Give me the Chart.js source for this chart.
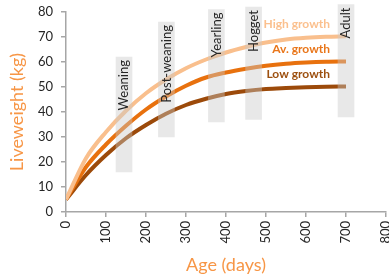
<!DOCTYPE html>
<html>
<head>
<meta charset="utf-8">
<script src="https://cdn.jsdelivr.net/npm/chart.js@4/dist/chart.umd.min.js"></script>
<style>
  html, body { margin: 0; padding: 0; background: #fff; }
  #wrap { position: relative; width: 389px; height: 276px; }
</style>
</head>
<body>
<div id="wrap"><canvas id="growthChart"></canvas></div>
<script>
// growth curves (liveweight kg by age in days)
const ages = [0, 50, 100, 150, 200, 250, 300, 350, 400, 450, 500, 550, 600, 650, 700];
const highGrowth = [5, 21.5, 32, 40.5, 47.5, 53, 57.5, 61, 63.8, 66, 67.8, 69, 69.7, 70.1, 70.3];
const avGrowth = [5, 18, 27, 34.5, 41, 46.2, 50.5, 53.8, 55.8, 57.3, 58.5, 59.3, 59.8, 60.1, 60.2];
const lowGrowth = [5, 14.8, 22.8, 29.5, 34.8, 39.3, 42.8, 45.3, 47.2, 48.4, 49.2, 49.6, 49.9, 50.1, 50.2];

// life stages, shown as grey bands
const stageNames = ['Weaning', 'Post-weaning', 'Yearling', 'Hogget', 'Adult'];
const stageAges = [145, 251, 376, 469, 700];
const stageLow = [16, 30, 36, 37, 38];
const stageHigh = [62, 76, 81, 82, 83];

const seriesNames = ['High growth', 'Av. growth', 'Low growth'];
const seriesColors = ['#f9bf8d', '#e8710e', '#9c4a0a'];
const labelColors = ['#fbc08e', '#e9761a', '#9d500f'];

const xTicks = [0, 100, 200, 300, 400, 500, 600, 700, 800];
const yTicks = [0, 10, 20, 30, 40, 50, 60, 70, 80];

const FONT = 'Lato, "Open Sans", sans-serif';
const axisGrey = '#a6a6a6';

const stageLabels = {
  id: 'stageLabels',
  afterDatasetsDraw(chart) {
    const ctx = chart.ctx;
    const bars = chart.getDatasetMeta(0).data;
    ctx.save();
    // stage names, vertical, hanging from the top of each band
    ctx.font = '13px ' + FONT;
    ctx.fillStyle = '#262626';
    ctx.textAlign = 'right';
    ctx.textBaseline = 'middle';
    bars.forEach((bar, i) => {
      ctx.save();
      ctx.translate(bar.x, bar.y + 3);
      ctx.rotate(-Math.PI / 2);
      ctx.fillText(stageNames[i], 0, 0);
      ctx.restore();
    });
    // series names above the end of each curve
    ctx.font = 'bold 12px ' + FONT;
    for (let s = 1; s <= 3; s++) {
      const pts = chart.getDatasetMeta(s).data;
      const last = pts[pts.length - 1];
      ctx.fillStyle = labelColors[s - 1];
      ctx.fillText(seriesNames[s - 1], last.x - 16, last.y - 12);
    }
    ctx.restore();
  }
};

const lineSet = (i, values) => ({
  type: 'line',
  label: seriesNames[i],
  data: ages.map((a, k) => ({ x: a, y: values[k] })),
  borderColor: seriesColors[i],
  borderWidth: 4,
  pointRadius: 0,
  cubicInterpolationMode: 'monotone',
  fill: false,
  order: 2,
});

new Chart(document.getElementById('growthChart'), {
  type: 'line',
  data: {
    datasets: [
      {
        type: 'bar',
        label: 'Stages',
        data: stageAges.map((a, i) => ({ x: a, y: [stageLow[i], stageHigh[i]] })),
        backgroundColor: 'rgba(200, 200, 200, 0.42)',
        borderWidth: 0,
        barThickness: 16,
        clip: false,
        order: 1,
      },
      lineSet(0, highGrowth),
      lineSet(1, avGrowth),
      lineSet(2, lowGrowth),
    ],
  },
  options: {
    responsive: true,
    maintainAspectRatio: false,
    animation: false,
    layout: { padding: { top: 12, right: 3, left: 0, bottom: 0 } },
    plugins: {
      legend: { display: false },
      tooltip: { enabled: false },
    },
    scales: {
      x: {
        type: 'linear',
        min: 0,
        max: 800,
        offset: false,
        afterBuildTicks: (s) => { s.ticks = xTicks.map((v) => ({ value: v })); },
        afterFit: (s) => { s.height = 64; s.paddingLeft = 0; s.paddingRight = 0; },
        ticks: {
          minRotation: 90,
          maxRotation: 90,
          padding: 4,
          color: '#262626',
          font: { family: FONT, size: 13 },
        },
        grid: { display: true, drawOnChartArea: false, offset: false, tickLength: 5, color: axisGrey, lineWidth: 1.5 },
        border: { color: axisGrey, width: 1.5 },
        title: {
          display: true,
          text: 'Age (days)',
          color: '#f79646',
          font: { family: FONT, size: 18 },
          padding: { top: 0, bottom: 0 },
        },
      },
      y: {
        min: 0,
        max: 80,
        afterBuildTicks: (s) => { s.ticks = yTicks.map((v) => ({ value: v })); },
        afterFit: (s) => { s.width = 66; s.paddingTop = 0; s.paddingBottom = 0; },
        ticks: {
          padding: 8,
          color: '#262626',
          font: { family: FONT, size: 13 },
        },
        grid: { display: true, drawOnChartArea: false, tickLength: 5, color: axisGrey, lineWidth: 1.5 },
        border: { color: axisGrey, width: 1.5 },
        title: {
          display: true,
          text: 'Liveweight (kg)',
          color: '#f79646',
          font: { family: FONT, size: 18 },
          padding: { top: 6, bottom: 0 },
        },
      },
    },
  },
  plugins: [stageLabels],
});
</script>
</body>
</html>
